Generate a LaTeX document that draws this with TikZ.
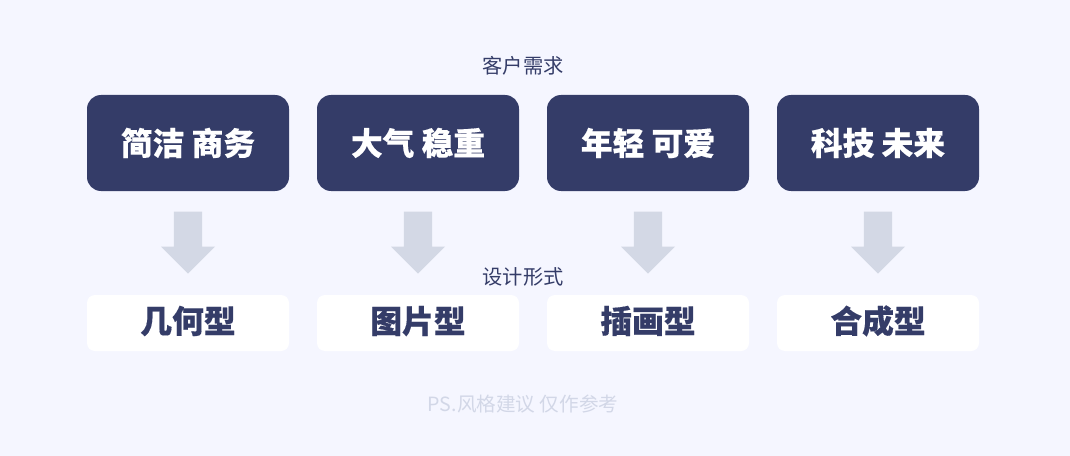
\documentclass[tikz,border=0pt]{standalone}
\usepackage{fontspec}
\setmainfont[BoldFeatures={FakeBold=0.35}]{Noto Sans CJK SC}
\usetikzlibrary{shapes.arrows}
\definecolor{pagebg}{HTML}{F5F6FF}
\definecolor{navy}{HTML}{343C68}
\definecolor{arrowgrey}{HTML}{D3D8E5}
\definecolor{notegrey}{HTML}{D2D7E7}
\tikzset{x=.75pt,y=-.75pt,
  needbox/.style={fill=navy,rounded corners=10.5pt,minimum width=151.5pt,minimum height=72pt,inner sep=0pt,text=white,font=\fontsize{23.8pt}{26pt}\selectfont\bfseries},
  formbox/.style={fill=white,rounded corners=6pt,minimum width=151.5pt,minimum height=42pt,inner sep=0pt,text=navy,text height=21pt,text depth=6pt,font=\fontsize{23.8pt}{26pt}\selectfont\bfseries},
  caption/.style={text=navy,font=\fontsize{15.2pt}{17pt}\selectfont,inner sep=0pt},
  downarrow/.style={fill=arrowgrey,shape=single arrow,shape border rotate=270,single arrow tip angle=90,minimum width=40.5pt,minimum height=46.5pt,inner xsep=7.6pt,inner ysep=0pt,single arrow head indent=0pt,anchor=tip}}
\begin{document}
\begin{tikzpicture}
\fill[pagebg] (0,0) rectangle (1070,456);
\useasboundingbox (0,0) rectangle (1070,456);
\node[caption] (need) at (523,66){客户需求};
\node[needbox] (n1) at (188,143){简洁 商务};
\node[needbox] (n2) at (418,143){大气 稳重};
\node[needbox] (n3) at (648,143){年轻 可爱};
\node[needbox] (n4) at (878,143){科技 未来};
\node[downarrow] (a1) at (188,274){};
\node[downarrow] (a2) at (418,274){};
\node[downarrow] (a3) at (648,274){};
\node[downarrow] (a4) at (878,274){};
\node[caption] (form) at (523,277){设计形式};
\node[formbox] (f1) at (188,323){几何型};
\node[formbox] (f2) at (418,323){图片型};
\node[formbox] (f3) at (648,323){插画型};
\node[formbox] (f4) at (878,323){合成型};
\node[caption,font=\fontsize{14.7pt}{17pt}\selectfont,text=notegrey] (note) at (523,404){PS.风格建议 仅作参考};
\end{tikzpicture}
\end{document}
